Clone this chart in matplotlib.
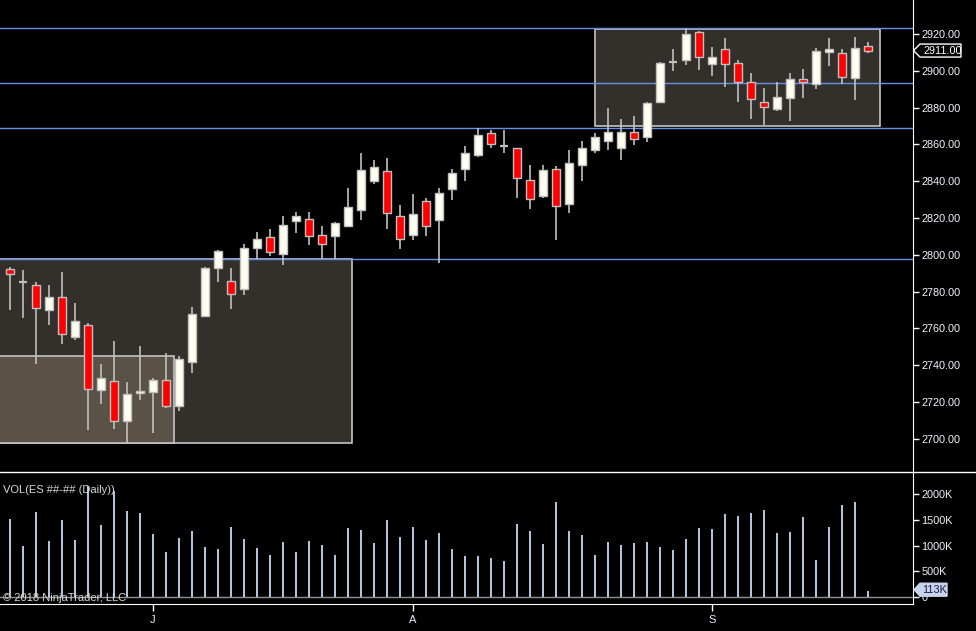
import matplotlib
matplotlib.use('Agg')
import matplotlib.pyplot as plt
from matplotlib.patches import Rectangle, Polygon
from matplotlib.lines import Line2D
import numpy as np

plt.rcParams['font.family'] = ['Liberation Sans', 'DejaVu Sans']

# daily ES bars
opens = [2792.2, 2785.0, 2783.4, 2770.1, 2776.9, 2755.6, 2762.1, 2726.4, 2731.5, 2709.5,
         2725.0, 2725.3, 2732.1, 2717.7, 2741.7, 2766.8, 2792.7, 2785.6, 2781.6, 2803.7,
         2809.7, 2800.7, 2818.4, 2819.5, 2810.8, 2810.2, 2815.7, 2824.4, 2840.3, 2845.7,
         2821.1, 2810.8, 2829.3, 2819.0, 2835.9, 2846.8, 2854.5, 2866.0, 2858.9, 2857.8,
         2840.8, 2832.1, 2846.8, 2827.7, 2849.0, 2857.2, 2862.1, 2858.3, 2867.0, 2863.8,
         2882.9, 2904.8, 2905.9, 2921.1, 2903.7, 2911.9, 2904.2, 2893.8, 2882.9, 2879.1,
         2885.1, 2895.5, 2892.7, 2910.2, 2909.7, 2896.0, 2913.5]
highs = [2793.3, 2791.8, 2785.2, 2783.6, 2790.7, 2773.8, 2762.8, 2740.4, 2753.0, 2731.1,
         2750.3, 2733.3, 2746.4, 2744.8, 2771.6, 2793.6, 2802.7, 2792.9, 2806.0, 2812.4,
         2814.2, 2821.1, 2823.3, 2823.3, 2815.7, 2817.9, 2836.4, 2855.2, 2851.7, 2852.5,
         2827.3, 2833.3, 2831.0, 2836.4, 2846.8, 2858.9, 2869.2, 2867.6, 2868.1, 2858.3,
         2849.0, 2849.0, 2848.5, 2857.2, 2862.1, 2866.0, 2879.6, 2873.6, 2875.2, 2882.9,
         2904.8, 2911.9, 2923.3, 2921.7, 2913.0, 2917.9, 2905.9, 2898.7, 2890.5, 2893.8,
         2898.7, 2900.9, 2912.4, 2917.9, 2911.9, 2918.4, 2915.7]
lows = [2770.0, 2765.6, 2740.4, 2761.7, 2751.4, 2753.7, 2704.9, 2719.1, 2705.5, 2697.1,
        2721.3, 2702.9, 2716.6, 2715.3, 2735.7, 2766.3, 2785.4, 2770.7, 2778.3, 2797.7,
        2799.6, 2794.7, 2811.6, 2805.1, 2797.7, 2797.7, 2814.9, 2818.8, 2838.4, 2813.8,
        2802.9, 2807.8, 2810.5, 2795.8, 2829.7, 2840.1, 2853.4, 2857.8, 2855.6, 2830.8,
        2825.0, 2831.0, 2808.0, 2822.8, 2840.1, 2855.6, 2857.0, 2851.5, 2859.7, 2861.4,
        2882.3, 2899.8, 2902.9, 2900.7, 2897.1, 2891.1, 2882.9, 2873.6, 2870.3, 2878.3,
        2872.5, 2885.1, 2890.0, 2902.6, 2892.7, 2884.0, 2909.7]
closes = [2789.5, 2785.0, 2771.2, 2776.9, 2757.0, 2764.3, 2726.9, 2733.2, 2709.5, 2724.4,
          2726.1, 2732.1, 2717.7, 2743.6, 2768.1, 2792.7, 2802.0, 2778.9, 2803.7, 2808.6,
          2801.3, 2816.2, 2821.1, 2810.2, 2805.8, 2817.3, 2826.1, 2846.3, 2847.9, 2822.8,
          2808.6, 2822.2, 2815.7, 2833.7, 2844.6, 2855.6, 2864.9, 2860.5, 2858.9, 2841.9,
          2830.4, 2846.3, 2826.6, 2850.1, 2857.8, 2863.8, 2867.0, 2866.5, 2863.2, 2882.3,
          2904.2, 2904.8, 2920.1, 2907.5, 2907.5, 2903.7, 2893.8, 2884.5, 2880.2, 2885.6,
          2895.5, 2893.8, 2910.8, 2911.9, 2896.6, 2912.4, 2911.0]
volumes = [1515, 990, 1650, 1090, 1500, 1110, 2170, 1400, 2070, 1670,
           1630, 1220, 870, 1160, 1280, 970, 930, 1360, 1130, 950,
           815, 1070, 870, 1090, 1010, 815, 1340, 1300, 1050, 1500,
           1170, 1360, 1110, 1240, 930, 800, 800, 760, 700, 1420,
           1280, 1030, 1860, 1280, 1200, 815, 1070, 1010, 1050, 1070,
           970, 910, 1130, 1340, 1320, 1610, 1590, 1630, 1690, 1240,
           1260, 1570, 720, 1360, 1790, 1860, 113]

month_pos = [11, 31, 54]
month_labels = ['J', 'A', 'S']

# horizontal levels and zone boxes (x0, x1, low, high)
levels = [2923.2, 2893.2, 2869.1, 2797.5]
zones = [(-2, 26.28, 2697.9, 2797.5), (-2, 12.6, 2697.9, 2745.2), (45.0, 66.95, 2870.2, 2922.7)]
zone_colors = ['#33302b', '#5b5247', '#33302b']
last_price = 2911.00

W, H = 976, 631
def fx(px):
    return px / W
def fy(py):
    return 1 - py / H

fig = plt.figure(figsize=(9.76, 6.31), dpi=100, facecolor='black')
ax = fig.add_axes([0, fy(471), fx(913), 471 / H])
axv = fig.add_axes([0, fy(604), fx(913), (604 - 472) / H])

for a in (ax, axv):
    a.set_facecolor('black')
    for s in ('top', 'left', 'bottom'):
        a.spines[s].set_visible(False)
    a.spines['right'].set_color('white')
    a.set_xlim(-10 / 13, 903 / 13)
    a.yaxis.tick_right()
axv.spines['bottom'].set_visible(True)
axv.spines['bottom'].set_color('white')

x = np.arange(len(opens))
o = np.array(opens); c = np.array(closes)

# zones and levels
for (x0, x1, lo, hi), fc in zip(zones, zone_colors):
    ax.add_patch(Rectangle((x0, lo), x1 - x0, hi - lo, facecolor=fc,
                           edgecolor='#c4c4c4', lw=1.2, zorder=1))
for lv in levels:
    ax.axhline(lv, color='#6a8fe6', lw=1, zorder=2)

# candles
ax.vlines(x, lows, highs, color='#c0c0c0', lw=1.2, zorder=3)
doji = np.abs(c - o) < 0.05
body = ~doji
fills = np.where(c >= o, '#fffff0', '#ff0000')
ax.bar(x[body], np.maximum(np.abs(c - o), 0.6)[body], bottom=np.minimum(o, c)[body],
       width=0.62, color=fills[body], edgecolor='#c0c0c0', linewidth=1.0, zorder=4)
ax.hlines(o[doji], x[doji] - 0.31, x[doji] + 0.31, color='#c0c0c0', lw=1.6, zorder=4)

ax.set_ylim(2682.5, 2938.5)
ax.set_xticks([])
ax.set_yticks(np.arange(2700, 2921, 20))
ax.set_yticklabels(['%.2f' % v for v in np.arange(2700, 2921, 20)])
ax.tick_params(axis='y', colors='white', length=4, width=1, pad=2, labelsize=7.8,
               labelcolor='#f0f4ff')

# volume
axv.bar(x, volumes, width=0.2, color='#b0c4de', zorder=3)
axv.axhline(0, color='#909090', lw=1, zorder=2)
axv.set_ylim(-136.6, 2439)
axv.set_yticks([0, 500, 1000, 1500, 2000])
axv.set_yticklabels(['0', '500K', '1000K', '1500K', '2000K'])
axv.tick_params(axis='y', colors='white', length=4, width=1, pad=2, labelsize=7.8,
                labelcolor='#f0f4ff')
axv.set_xticks(month_pos)
axv.set_xticklabels(month_labels)
axv.tick_params(axis='x', colors='white', length=5, width=1, pad=3, labelsize=8,
                labelcolor='#e8eeff')

# panel separator
fig.add_artist(Line2D([0, 1], [fy(471.5), fy(471.5)], color='white', lw=1))

# last price tag
py = 254.8 - (last_price - 2800) * 1.84
pts = [(913.5, py), (920, py - 6.5), (961, py - 6.5), (961, py + 6.5), (920, py + 6.5)]
fig.add_artist(Polygon([(fx(a), fy(b)) for a, b in pts], closed=True, facecolor='black',
                       edgecolor='white', lw=1, transform=fig.transFigure))
fig.text(fx(923), fy(py), '%.2f' % last_price, color='white', fontsize=7.8, va='center')

# last volume tag
vy = 589.7
pts = [(914, vy), (920, vy - 6.5), (947, vy - 6.5), (947, vy + 6.5), (920, vy + 6.5)]
fig.add_artist(Polygon([(fx(a), fy(b)) for a, b in pts], closed=True, facecolor='#c8d4ec',
                       edgecolor='#c8d4ec', lw=1, transform=fig.transFigure))
fig.text(fx(922), fy(vy), '%dK' % volumes[-1], color='#1a1a40', fontsize=7.8, va='center')

fig.text(fx(3), fy(490), 'VOL(ES ##-## (Daily))', color='#d8d8d8', fontsize=8, va='center')
fig.text(fx(3), fy(598), '\u00a9 2018 NinjaTrader, LLC', color='#d8d8d8', fontsize=8, va='center')

fig.savefig('out.png', dpi=100, facecolor='black')
